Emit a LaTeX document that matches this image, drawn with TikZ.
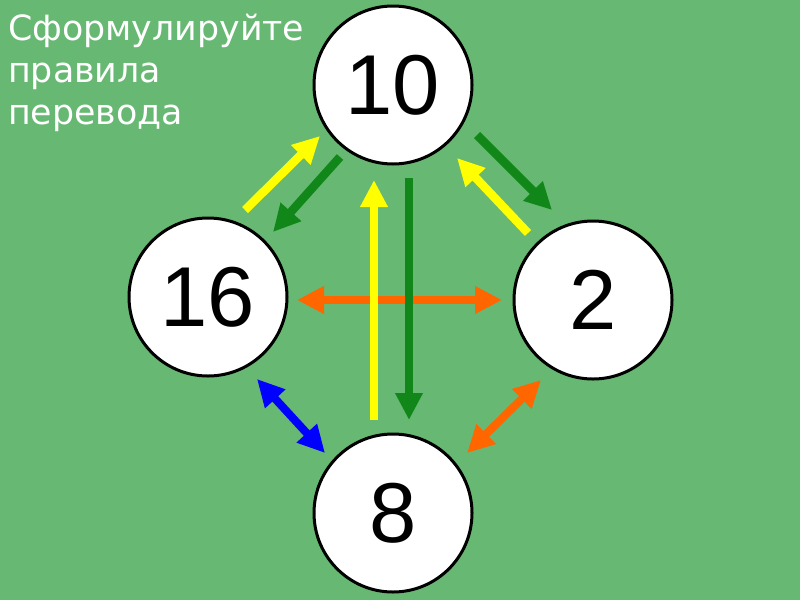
\documentclass[tikz,border=0pt]{standalone}
\usepackage{fontspec}
\setmainfont{Liberation Sans}
\newfontfamily\titlefont{DejaVu Sans}
\usetikzlibrary{arrows.meta}
\definecolor{bggreen}{RGB}{102,184,114}
\definecolor{arryellow}{RGB}{255,255,0}
\definecolor{arrgreen}{RGB}{18,135,25}
\definecolor{arrorange}{RGB}{255,102,0}
\definecolor{arrblue}{RGB}{0,0,255}
\tikzset{
  numcircle/.style={circle, draw=black, line width=3pt, fill=white, minimum size=158pt, inner sep=0pt, font=\fontsize{85}{85}\selectfont},
  arr/.style={line width=8.5pt, -{Triangle[length=27pt,width=26pt]}},
  darr/.style={line width=8pt, {Triangle[length=27pt,width=26pt]}-{Triangle[length=27pt,width=26pt]}},
  titletext/.style={anchor=base west, inner sep=0pt, text=white, font=\titlefont\fontsize{34.8}{34.8}\selectfont}
}
\begin{document}
\begin{tikzpicture}[x=1pt,y=-1pt]
\fill[bggreen] (0,0) rectangle (800,600);
\useasboundingbox (0,0) rectangle (800,600);
% circles
\node[numcircle] (n10) at (393,85) {10};
\node[numcircle] (n16) at (208,297) {16};
\node[numcircle] (n2) at (593,300) {2};
\node[numcircle] (n8) at (393,513) {8};
% arrow endpoints
\coordinate (a1s) at (245,210); \coordinate (a1e) at (320,136);
\coordinate (a2s) at (340,157); \coordinate (a2e) at (273,232);
\coordinate (a3s) at (477,135); \coordinate (a3e) at (552,210);
\coordinate (a4s) at (528,233); \coordinate (a4e) at (457,158);
\coordinate (a5s) at (297,300); \coordinate (a5e) at (502,300);
\coordinate (a6s) at (374,420); \coordinate (a6e) at (374,180);
\coordinate (a7s) at (409,178); \coordinate (a7e) at (409,420);
\coordinate (a8s) at (257,379); \coordinate (a8e) at (325,453);
\coordinate (a9s) at (541,380); \coordinate (a9e) at (467,453);
% arrows
\draw[arr, arryellow] (a1s) -- (a1e);
\draw[arr, arrgreen] (a2s) -- (a2e);
\draw[arr, arrgreen] (a3s) -- (a3e);
\draw[arr, arryellow] (a4s) -- (a4e);
\draw[darr, arrorange] (a5s) -- (a5e);
\draw[arr, arryellow] (a6s) -- (a6e);
\draw[arr, arrgreen] (a7s) -- (a7e);
\draw[darr, arrblue] (a8s) -- (a8e);
\draw[darr, arrorange] (a9s) -- (a9e);
% title
\node[titletext] (t1) at (8,40) {Сформулируйте};
\node[titletext] (t2) at (8,82) {правила};
\node[titletext] (t3) at (8,124) {перевода};
\end{tikzpicture}
\end{document}
